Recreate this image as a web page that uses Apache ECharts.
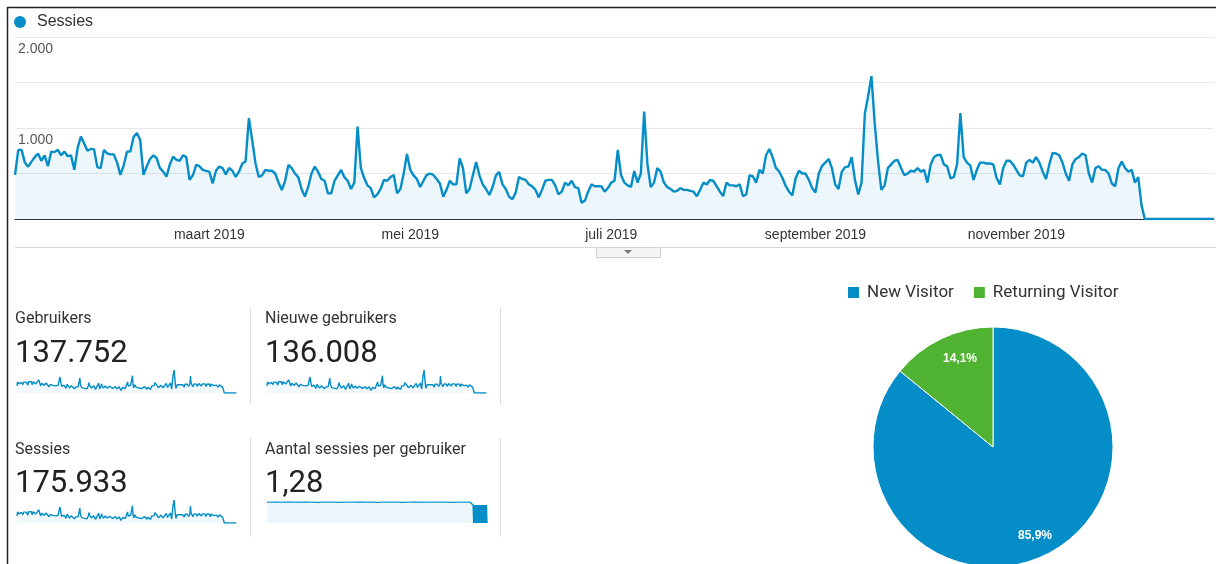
<!DOCTYPE html>
<html><head><meta charset="utf-8">
<script src="https://cdn.jsdelivr.net/npm/echarts@6/dist/echarts.min.js"></script>
<style>html,body{margin:0;padding:0;background:#fff}#c{width:1216px;height:564px}</style>
</head><body><div id="c"></div>
<script>
// Daily sessions, 1 Jan 2019 .. 31 Dec 2019
const sessies = [
484,760,760,620,575,630,680,720,640,700,580,740,735,760,700,740,690,700,540,780,905,830,750,770,765,570,560,760,720,710,710,620,485,590,740,740,900,945,870,485,580,660,700,670,560,520,465,600,685,650,640,700,
680,430,480,594,580,540,528,520,390,530,576,560,490,560,530,462,520,610,633,1107,869,616,462,480,539,530,530,500,400,319,420,594,560,500,460,330,246,352,500,576,520,440,420,282,282,420,480,539,460,420,330,400,1015,
560,450,370,340,238,270,330,430,420,462,484,282,330,500,715,540,480,440,352,420,484,500,484,440,390,246,320,420,380,380,666,560,282,330,480,627,480,380,330,264,352,480,517,380,330,246,216,290,462,440,430,380,360,320,
240,320,420,430,430,370,270,300,400,370,420,350,340,180,200,300,380,360,360,360,300,340,400,420,759,480,400,370,352,528,400,500,1181,600,352,400,560,520,400,352,330,300,310,340,320,320,310,300,250,320,400,380,
429,420,360,300,253,400,370,370,360,380,250,270,480,470,400,540,500,700,770,680,560,520,450,360,300,260,450,530,500,500,430,340,290,500,583,620,660,560,380,330,
520,570,575,680,430,270,400,1160,1350,1570,1050,640,320,370,560,600,640,649,560,480,500,530,520,560,520,540,400,600,680,704,704,600,580,446,460,600,1163,680,620,590,430,540,620,620,610,610,600,450,380,560,640,640,600,540,
480,470,620,650,620,680,620,520,440,600,726,720,700,620,500,420,600,660,680,720,700,500,400,560,580,540,540,500,390,360,560,630,560,520,540,400,460,150,
0,0,0,0,0,0,0,0,0,0,0,0,0,0,0,0,0,0,0,0,0,0
];
const monthNames = ['januari','februari','maart','april','mei','juni','juli','augustus','september','oktober','november','december'];
const labelMonths = [2,4,6,8,10];
const yLabelValues = [1000, 2000];
const pieNames = ['New Visitor','Returning Visitor'];
const pieValues = [85.9, 14.1];
const pieColors = ['#058dc7','#50b432'];
const scoreLabels = ['Gebruikers','Nieuwe gebruikers','Sessies','Aantal sessies per gebruiker'];
const scoreValues = ['137.752','136.008','175.933','1,28'];
// Sessions per user: weekly readings (day 0,7,...,336), then the dense tail from day 341
const ratioWeekly = [1.28,1.28,1.29,1.28,1.28,1.29,1.28,1.28,1.28,1.29,1.28,1.28,1.27,1.28,1.28,1.28,1.28,1.27,1.28,1.28,1.28,1.28,1.29,1.28,1.28,1.28,1.27,1.28,1.28,1.28,1.28,1.28,1.27,1.28,1.28,1.29,1.28,1.28,1.28,1.28,1.28,1.28,1.28,1.28,1.27,1.28,1.28,1.28,1.28];
const ratioTailStart = 341;
const ratioTail = [1.1,0,1.1,0,1.1,0,1.1,0,1.1,0,1.1,0,1.1,0,1.1,0,1.1,0,1.1,0,1.1,0,1.1,0];

const dates = [];
for (let i = 0; i < sessies.length; i++) {
  dates.push(new Date(Date.UTC(2019, 0, 1 + i)).toISOString().slice(0, 10));
}
const ratioData = ratioWeekly.map((v, i) => [i * 7, v]).concat(ratioTail.map((v, i) => [ratioTailStart + i, v]));

const BLUE = '#058dc7';
const fmtThousands = v => String(v).replace(/\B(?=(\d{3})+(?!\d))/g, '.');
const AX = 'Arial, "Liberation Sans", sans-serif';
const RB = 'Roboto, Arial, sans-serif';

const sparkGrids = [
  {left: 17, top: 370, width: 220, height: 23},
  {left: 267, top: 370, width: 220, height: 23},
  {left: 17, top: 500, width: 220, height: 23},
  {left: 267, top: 502, width: 220, height: 21}
];

const grids = [{left: 15, right: 2, top: 37, bottom: 345}].concat(sparkGrids);
const xAxes = [{
  gridIndex: 0, type: 'category', data: dates, boundaryGap: false,
  axisLine: {lineStyle: {color: '#333', width: 1}}, axisTick: {show: false},
  axisLabel: {
    margin: 9, color: '#333', fontSize: 14, fontFamily: AX,
    interval: (idx, val) => val.slice(8) === '01' && labelMonths.includes(+val.slice(5, 7) - 1),
    formatter: val => monthNames[+val.slice(5, 7) - 1] + ' ' + val.slice(0, 4)
  },
  splitLine: {show: false}
}];
const yAxes = [{
  gridIndex: 0, type: 'value', min: 0, max: 2000, interval: 500,
  axisLine: {show: false}, axisTick: {show: false},
  axisLabel: {inside: true, margin: 3, verticalAlign: 'top', padding: [5, 0, 0, 0], color: '#555', fontSize: 14, fontFamily: AX,
    formatter: v => yLabelValues.includes(v) ? fmtThousands(v) : ''},
  splitLine: {lineStyle: {color: '#e8e8e8'}}
}];
for (let g = 1; g <= 4; g++) {
  if (g < 4) xAxes.push({gridIndex: g, type: 'category', data: dates, boundaryGap: false, show: false});
  else xAxes.push({gridIndex: g, type: 'value', min: 0, max: dates.length - 1, show: false});
  yAxes.push({gridIndex: g, type: 'value', min: 0, max: g < 4 ? 'dataMax' : 1.29, show: false});
}

const series = [{
  name: 'Sessies', type: 'line', xAxisIndex: 0, yAxisIndex: 0, data: sessies,
  showSymbol: false, symbol: 'none', lineStyle: {color: BLUE, width: 2.4}, itemStyle: {color: BLUE},
  areaStyle: {color: 'rgba(5,141,199,0.1)'}, silent: true
}];
// Spark lines for users / new users / sessions share the sessions shape seen in the picture
[1, 2, 3].forEach(g => series.push({
  name: 'spark' + g, type: 'line', xAxisIndex: g, yAxisIndex: g, data: sessies,
  showSymbol: false, symbol: 'none', lineStyle: {color: BLUE, width: 1.4},
  areaStyle: {color: 'rgba(5,141,199,0.07)'}, silent: true
}));
series.push({
  name: 'spark4', type: 'line', xAxisIndex: 4, yAxisIndex: 4, data: ratioData,
  showSymbol: false, symbol: 'none', lineStyle: {color: BLUE, width: 1.4},
  areaStyle: {color: 'rgba(5,141,199,0.1)'}, silent: true
});
const pieData = pieNames.map((n, i) => ({name: n, value: pieValues[i], itemStyle: {color: pieColors[i]}}));
series.push({
  name: 'Visitors', type: 'pie', center: [993, 447], radius: 120, startAngle: 90, clockwise: true,
  data: pieData, label: {show: false}, labelLine: {show: false},
  itemStyle: {borderColor: '#fff', borderWidth: 1}, silent: true
});
const labelPads = [[0, 0, 6, 0], [8, 0, 0, 18]];
series.push({
  name: 'VisitorLabels', type: 'pie', center: [993, 447], radius: [78, 112], startAngle: 90, clockwise: true,
  data: pieNames.map((n, i) => ({name: n, value: pieValues[i], itemStyle: {color: 'rgba(0,0,0,0)'},
    label: {padding: labelPads[i]}})),
  label: {show: true, position: 'inside', color: '#fff', fontWeight: 'bold', fontSize: 12, fontFamily: AX,
    formatter: p => p.value.toFixed(1).replace('.', ',') + '%'},
  labelLine: {show: false}, silent: true
});

const graphics = [
  {type: 'line', shape: {x1: 7, y1: 7.5, x2: 1216, y2: 7.5}, style: {stroke: '#222', lineWidth: 1.5}, silent: true},
  {type: 'line', shape: {x1: 7.5, y1: 7, x2: 7.5, y2: 564}, style: {stroke: '#222', lineWidth: 1.5}, silent: true},
  {type: 'line', shape: {x1: 15, y1: 247.5, x2: 1216, y2: 247.5}, style: {stroke: '#d8d8d8', lineWidth: 1}, silent: true},
  {type: 'rect', shape: {x: 596.5, y: 247.5, width: 64, height: 10}, style: {fill: '#f4f4f4', stroke: '#cfcfcf', lineWidth: 1}, silent: true},
  {type: 'polygon', shape: {points: [[624, 250], [632, 250], [628, 254]]}, style: {fill: '#777'}, silent: true},
  {type: 'line', shape: {x1: 250.5, y1: 308, x2: 250.5, y2: 405}, style: {stroke: '#ddd', lineWidth: 1}, silent: true},
  {type: 'line', shape: {x1: 500.5, y1: 308, x2: 500.5, y2: 405}, style: {stroke: '#ddd', lineWidth: 1}, silent: true},
  {type: 'line', shape: {x1: 250.5, y1: 438, x2: 250.5, y2: 537}, style: {stroke: '#ddd', lineWidth: 1}, silent: true},
  {type: 'line', shape: {x1: 500.5, y1: 438, x2: 500.5, y2: 537}, style: {stroke: '#ddd', lineWidth: 1}, silent: true}
];
const cardPos = [[15, 319, 354], [265, 319, 354], [15, 450, 484], [265, 450, 484]];
cardPos.forEach((p, i) => {
  graphics.push({type: 'text', style: {text: scoreLabels[i], x: p[0], y: p[1], font: '16px ' + RB, fill: '#333', align: 'left', verticalAlign: 'middle'}, silent: true});
  graphics.push({type: 'text', style: {text: scoreValues[i], x: p[0], y: p[2], font: '31px ' + RB, fill: '#222', align: 'left', verticalAlign: 'middle'}, silent: true});
});

const chart = echarts.init(document.getElementById('c'), null, {renderer: 'canvas'});
chart.setOption({
  animation: false,
  backgroundColor: '#fff',
  legend: [
    {data: [{name: 'Sessies', icon: 'circle'}], left: 14, top: 14, padding: 0, itemWidth: 12, itemHeight: 12,
      textStyle: {fontSize: 16, color: '#333', fontFamily: AX, padding: [0, 0, 0, 6]}, selectedMode: false},
    {data: pieNames, left: 846, top: 284, padding: 0, itemWidth: 13, itemHeight: 13, icon: 'rect', itemGap: 18,
      textStyle: {fontSize: 17, color: '#333', fontFamily: RB, padding: [0, 0, 0, 2]}, selectedMode: false}
  ],
  grid: grids, xAxis: xAxes, yAxis: yAxes, series: series, graphic: graphics
});
</script></body></html>
